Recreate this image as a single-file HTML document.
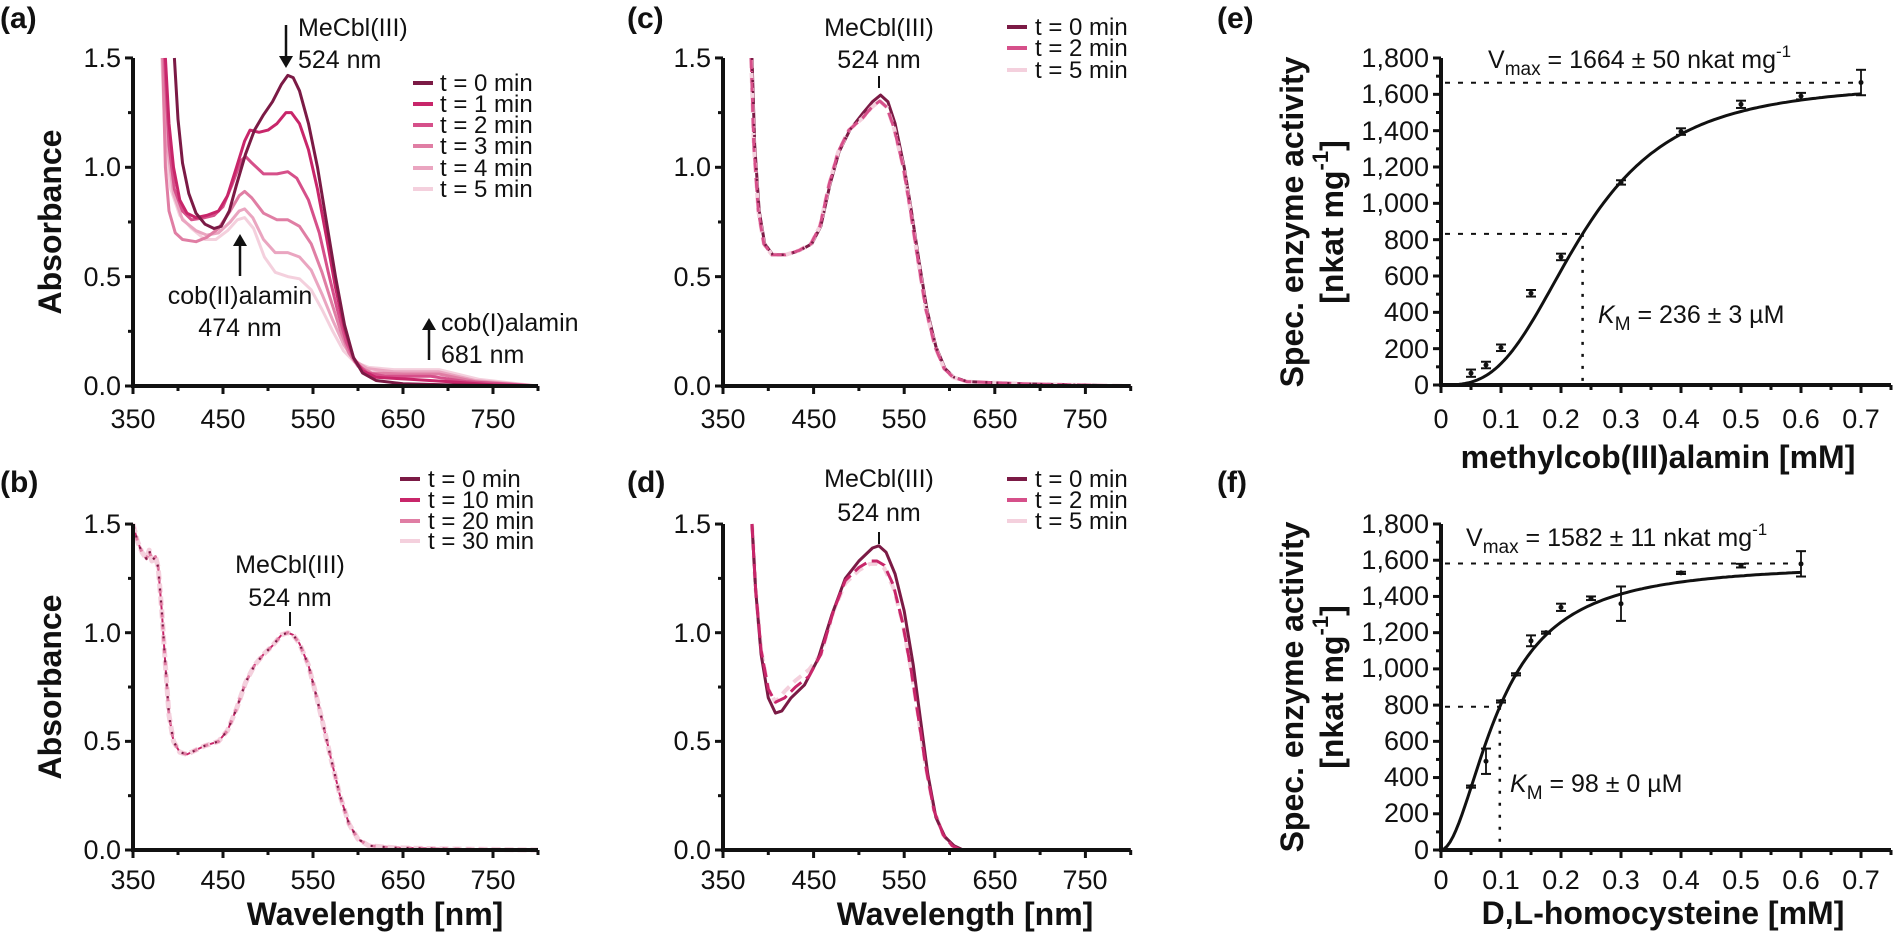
<!DOCTYPE html>
<html><head><meta charset="utf-8">
<style>
html,body{margin:0;padding:0;background:#fff;}
svg{display:block;font-family:"Liberation Sans",Arial,sans-serif;}
.t{font-size:27px;fill:#111;}
.lg{font-size:24px;fill:#111;}
.an{font-size:25px;fill:#111;}
.pl{font-size:30px;font-weight:bold;fill:#111;}
.al{font-size:32px;font-weight:bold;fill:#111;}
</style></head>
<body>
<svg id="s" width="1893" height="935" viewBox="0 0 1893 935" xmlns="http://www.w3.org/2000/svg">
<rect width="1893" height="935" fill="#fff"/>
<g id="plots"></g>
<text class="pl" x="0" y="28">(a)</text>
<text class="pl" x="627" y="28">(c)</text>
<text class="pl" x="1217" y="28">(e)</text>
<text class="pl" x="0" y="492">(b)</text>
<text class="pl" x="627" y="492">(d)</text>
<text class="pl" x="1217" y="492">(f)</text>

<g class="t" text-anchor="middle">
<text x="133" y="428">350</text><text x="223" y="428">450</text><text x="313" y="428">550</text><text x="403" y="428">650</text><text x="493" y="428">750</text>
<text x="723" y="428">350</text><text x="814" y="428">450</text><text x="904" y="428">550</text><text x="995" y="428">650</text><text x="1085" y="428">750</text>
<text x="133" y="889">350</text><text x="223" y="889">450</text><text x="313" y="889">550</text><text x="403" y="889">650</text><text x="493" y="889">750</text>
<text x="723" y="889">350</text><text x="814" y="889">450</text><text x="904" y="889">550</text><text x="995" y="889">650</text><text x="1085" y="889">750</text>
</g>
<g class="t" text-anchor="end">
<text x="121" y="67">1.5</text><text x="121" y="176">1.0</text><text x="121" y="286">0.5</text><text x="121" y="395">0.0</text>
<text x="711" y="67">1.5</text><text x="711" y="176">1.0</text><text x="711" y="286">0.5</text><text x="711" y="395">0.0</text>
<text x="121" y="533">1.5</text><text x="121" y="642">1.0</text><text x="121" y="750">0.5</text><text x="121" y="859">0.0</text>
<text x="711" y="533">1.5</text><text x="711" y="642">1.0</text><text x="711" y="750">0.5</text><text x="711" y="859">0.0</text>
</g>
<g class="t" text-anchor="middle">
<text x="1441" y="428">0</text><text x="1501" y="428">0.1</text><text x="1561" y="428">0.2</text><text x="1621" y="428">0.3</text><text x="1681" y="428">0.4</text><text x="1741" y="428">0.5</text><text x="1801" y="428">0.6</text><text x="1861" y="428">0.7</text>
<text x="1441" y="889">0</text><text x="1501" y="889">0.1</text><text x="1561" y="889">0.2</text><text x="1621" y="889">0.3</text><text x="1681" y="889">0.4</text><text x="1741" y="889">0.5</text><text x="1801" y="889">0.6</text><text x="1861" y="889">0.7</text>
</g>
<g class="t" text-anchor="end">
<text x="1429" y="67">1,800</text><text x="1429" y="103">1,600</text><text x="1429" y="140">1,400</text><text x="1429" y="176">1,200</text><text x="1429" y="212">1,000</text><text x="1429" y="249">800</text><text x="1429" y="285">600</text><text x="1429" y="321">400</text><text x="1429" y="358">200</text><text x="1429" y="394">0</text>
<text x="1429" y="533">1,800</text><text x="1429" y="569">1,600</text><text x="1429" y="605">1,400</text><text x="1429" y="641">1,200</text><text x="1429" y="677">1,000</text><text x="1429" y="714">800</text><text x="1429" y="750">600</text><text x="1429" y="786">400</text><text x="1429" y="822">200</text><text x="1429" y="859">0</text>
</g>

<text class="al" text-anchor="middle" dominant-baseline="central" transform="translate(50,222) rotate(-90)">Absorbance</text>
<text class="al" text-anchor="middle" dominant-baseline="central" transform="translate(50,687) rotate(-90)">Absorbance</text>
<text class="al" text-anchor="middle" x="375" y="925">Wavelength [nm]</text>
<text class="al" text-anchor="middle" x="965" y="925">Wavelength [nm]</text>
<text class="al" text-anchor="middle" dominant-baseline="central" transform="translate(1292,222) rotate(-90)">Spec. enzyme activity</text>
<text class="al" text-anchor="middle" dominant-baseline="central" transform="translate(1332,222) rotate(-90)">[nkat mg<tspan font-size="22" dy="-12">-1</tspan><tspan dy="12">]</tspan></text>
<text class="al" text-anchor="middle" dominant-baseline="central" transform="translate(1292,687) rotate(-90)">Spec. enzyme activity</text>
<text class="al" text-anchor="middle" dominant-baseline="central" transform="translate(1332,687) rotate(-90)">[nkat mg<tspan font-size="22" dy="-12">-1</tspan><tspan dy="12">]</tspan></text>
<text class="al" text-anchor="middle" x="1658" y="468">methylcob(III)alamin [mM]</text>
<text class="al" text-anchor="middle" x="1663" y="924">D,L-homocysteine [mM]</text>

<text class="an" x="1488" y="68">V<tspan font-size="19" dy="7">max</tspan><tspan dy="-7"> = 1664 ± 50 nkat mg</tspan><tspan font-size="17" dy="-11">-1</tspan></text>
<text class="an" x="1466" y="546">V<tspan font-size="19" dy="7">max</tspan><tspan dy="-7"> = 1582 ± 11 nkat mg</tspan><tspan font-size="17" dy="-11">-1</tspan></text>
<text class="an" x="1598" y="323"><tspan font-style="italic">K</tspan><tspan font-size="19" dy="7">M</tspan><tspan dy="-7"> = 236 ± 3 µM</tspan></text>
<text class="an" x="1510" y="792"><tspan font-style="italic">K</tspan><tspan font-size="19" dy="7">M</tspan><tspan dy="-7"> = 98 ± 0 µM</tspan></text>

<text class="an" x="298" y="36">MeCbl(III)</text>
<text class="an" x="298" y="68">524 nm</text>
<text class="an" text-anchor="middle" x="240" y="304">cob(II)alamin</text>
<text class="an" text-anchor="middle" x="240" y="336">474 nm</text>
<text class="an" x="441" y="331">cob(I)alamin</text>
<text class="an" x="441" y="363">681 nm</text>
<text class="an" text-anchor="middle" x="879" y="36">MeCbl(III)</text>
<text class="an" text-anchor="middle" x="879" y="68">524 nm</text>
<text class="an" text-anchor="middle" x="290" y="573">MeCbl(III)</text>
<text class="an" text-anchor="middle" x="290" y="606">524 nm</text>
<text class="an" text-anchor="middle" x="879" y="487">MeCbl(III)</text>
<text class="an" text-anchor="middle" x="879" y="521">524 nm</text>

<g class="lg">
<text x="440" y="91">t = 0 min</text><text x="440" y="112">t = 1 min</text><text x="440" y="133">t = 2 min</text><text x="440" y="154">t = 3 min</text><text x="440" y="176">t = 4 min</text><text x="440" y="197">t = 5 min</text>
<text x="1035" y="35">t = 0 min</text><text x="1035" y="56">t = 2 min</text><text x="1035" y="78">t = 5 min</text>
<text x="428" y="487">t = 0 min</text><text x="428" y="508">t = 10 min</text><text x="428" y="529">t = 20 min</text><text x="428" y="549">t = 30 min</text>
<text x="1035" y="487">t = 0 min</text><text x="1035" y="508">t = 2 min</text><text x="1035" y="529">t = 5 min</text>
</g>
</svg>
<script>
(function(){
var NS="http://www.w3.org/2000/svg";var G=document.getElementById("plots");
function el(n,a){var e=document.createElementNS(NS,n);for(var k in a)e.setAttribute(k,a[k]);G.appendChild(e);return e;}
function line(x1,y1,x2,y2,w,c,d){var a={x1:x1,y1:y1,x2:x2,y2:y2,stroke:c||"#111","stroke-width":w||2};if(d)a["stroke-dasharray"]=d;return el("line",a);}
var C=["#7b1a45","#c8266a","#d6508a","#e07ea4","#eaa5c0","#f4d0dd"];
function P(x0,y0,sx,sy,xmin,ymin){return {X:function(v){return x0+(v-xmin)*sx},Y:function(v){return y0-(v-ymin)*sy}};}
var pa=P(133,386,0.9,218.7,350,0),pc=P(723,386,0.906,218.7,350,0),pb=P(133,850,0.9,217.3,350,0),pd=P(723,850,0.906,217.3,350,0);
var pe=P(1441,385,600,327/1800,0,0),pf=P(1441,850,600,326/1800,0,0);
function curve(p,pts,c,w,d){var s="";pts.forEach(function(q,i){s+=(i?"L":"M")+p.X(q[0]).toFixed(1)+","+p.Y(q[1]).toFixed(1);});var a={d:s,fill:"none",stroke:c,"stroke-width":w,"stroke-linejoin":"round","stroke-linecap":"butt"};if(d)a["stroke-dasharray"]=d;return el("path",a);}
function specAxes(p){var x0=p.X(350),x1=p.X(800),y0=p.Y(0),y1=p.Y(1.5);
 for(var v=350;v<=800;v+=50){line(p.X(v),y0,p.X(v),y0+(v%100==50?8:5),3);}
 for(var a=0;a<=1.5001;a+=0.25){var m=Math.abs(a*2-Math.round(a*2))<1e-6;line(x0,p.Y(a),x0-(m?8:5),p.Y(a),3);}
 line(x0,y1,x0,y0+2,4);line(x0-2,y0,x1,y0,4);}
function kinAxes(p){var x0=p.X(0),x1=p.X(0.75),y0=p.Y(0),y1=p.Y(1800);
 for(var i=0;i<=15;i++){line(p.X(i*0.05),y0,p.X(i*0.05),y0+(i%2==0?8:5),3);}
 for(var j=0;j<=18;j++){line(x0,p.Y(j*100),x0-(j%2==0?8:5),p.Y(j*100),3);}
 line(x0,y1,x0,y0+2,4);line(x0-2,y0,x1,y0,4);}
var A=[
[[396,1.5],[400,1.22],[405,1.02],[412,0.88],[420,0.79],[430,0.74],[440,0.72],[448,0.73],[457,0.8],[465,0.92],[475,1.06],[485,1.17],[495,1.24],[505,1.3],[515,1.38],[522,1.42],[528,1.41],[535,1.35],[545,1.2],[555,1.0],[565,0.75],[575,0.5],[585,0.28],[595,0.13],[605,0.06],[620,0.025],[650,0.01],[700,0.005],[800,0]],
[[386,1.5],[390,1.2],[395,1.0],[402,0.85],[410,0.79],[420,0.77],[432,0.78],[445,0.8],[455,0.87],[465,1.0],[474,1.12],[480,1.17],[490,1.16],[500,1.17],[510,1.2],[520,1.25],[526,1.25],[535,1.2],[545,1.08],[555,0.9],[565,0.68],[575,0.45],[585,0.26],[595,0.13],[605,0.07],[620,0.04],[660,0.03],[700,0.02],[750,0.005],[800,0]],
[[385,1.5],[390,1.1],[396,0.9],[405,0.8],[415,0.76],[430,0.77],[440,0.78],[450,0.82],[460,0.92],[470,1.03],[475,1.05],[482,1.02],[495,0.97],[510,0.97],[522,0.98],[532,0.95],[545,0.85],[557,0.7],[567,0.52],[577,0.35],[587,0.2],[597,0.11],[610,0.06],[630,0.045],[680,0.045],[720,0.02],[800,0]],
[[383,1.5],[386,1.0],[390,0.8],[397,0.7],[405,0.67],[420,0.66],[432,0.68],[445,0.72],[458,0.8],[468,0.87],[474,0.89],[482,0.86],[495,0.79],[510,0.76],[522,0.76],[535,0.73],[548,0.65],[560,0.52],[570,0.39],[580,0.26],[590,0.15],[600,0.09],[615,0.06],[650,0.055],[690,0.055],[730,0.02],[800,0]],
[[383,1.5],[388,1.1],[395,0.88],[405,0.76],[420,0.71],[432,0.69],[445,0.7],[458,0.75],[468,0.8],[474,0.81],[483,0.77],[495,0.67],[508,0.61],[522,0.61],[535,0.59],[548,0.53],[560,0.42],[572,0.3],[584,0.19],[595,0.12],[610,0.08],[640,0.065],[690,0.065],[730,0.025],[800,0]],
[[382,1.5],[386,1.1],[392,0.9],[402,0.78],[415,0.72],[430,0.67],[442,0.67],[455,0.71],[466,0.76],[474,0.77],[484,0.72],[496,0.59],[508,0.52],[522,0.5],[535,0.49],[548,0.44],[560,0.35],[572,0.25],[584,0.16],[596,0.11],[612,0.085],[640,0.075],[690,0.075],[735,0.03],[800,0]]];
for(var i=5;i>=0;i--)curve(pa,A[i],C[i],3);
specAxes(pa);
function leg(x,ys,cols){ys.forEach(function(y,i){line(x,y,x+20,y,4,cols[i]);});}
leg(413,[83,104,125,146,168,189],C);
leg(1007,[27,48,70],[C[0],C[2],C[5]]);
leg(400,[479,500,521,541],[C[0],C[1],C[3],C[5]]);
leg(1007,[479,500,521],[C[0],C[2],C[5]]);
line(286,25,286,58,2.5);el("path",{d:"M279,56 L293,56 L286,68 Z",fill:"#111"});
line(240,276,240,244,2.5);el("path",{d:"M233,246 L247,246 L240,234 Z",fill:"#111"});
line(429,360,429,328,2.5);el("path",{d:"M422,330 L436,330 L429,318 Z",fill:"#111"});
var B=[[350,1.5],[355,1.42],[360,1.37],[365,1.34],[368,1.38],[371,1.33],[375,1.35],[378,1.3],[382,1.1],[386,0.85],[390,0.62],[395,0.5],[402,0.45],[410,0.44],[420,0.46],[430,0.48],[445,0.5],[455,0.55],[465,0.65],[475,0.77],[485,0.85],[495,0.9],[505,0.94],[515,0.99],[522,1.0],[528,0.99],[535,0.95],[545,0.85],[553,0.72],[560,0.6],[570,0.42],[580,0.25],[590,0.12],[600,0.05],[612,0.02],[640,0.01],[700,0.005],[800,0]];
curve(pb,B,C[1],2);curve(pb,B,C[5],5,"9 4");curve(pb,B,C[3],3,"5 7");curve(pb,B,C[0],2,"2 10");
specAxes(pb);line(290,612,290,626,2);
var Cc=[[382,1.5],[385,1.1],[390,0.8],[396,0.65],[405,0.6],[420,0.6],[435,0.62],[448,0.65],[458,0.73],[468,0.92],[478,1.07],[490,1.17],[505,1.25],[515,1.3],[524,1.33],[532,1.3],[540,1.2],[550,1.0],[558,0.8],[566,0.58],[575,0.35],[585,0.18],[595,0.08],[605,0.04],[620,0.02],[680,0.01],[800,0]];
var Cc2=Cc.map(function(q){return [q[0]-1,q[1]*(q[0]>495&&q[0]<545?0.98:1)];});
curve(pc,Cc,C[0],3);curve(pc,Cc2,C[5],4,"10 5");curve(pc,Cc2,C[2],3,"14 6");curve(pc,Cc,C[0],2.5,"2 9");
specAxes(pc);line(879,76,879,88,2);
var D0=[[382,1.5],[386,1.2],[392,0.9],[400,0.7],[408,0.63],[415,0.64],[425,0.7],[440,0.76],[455,0.88],[470,1.08],[485,1.25],[500,1.33],[515,1.39],[522,1.4],[530,1.37],[540,1.27],[550,1.1],[560,0.85],[568,0.6],[576,0.35],[585,0.15],[595,0.06],[605,0.02],[615,0],[800,0]];
var D2=[[382,1.5],[386,1.2],[392,0.92],[400,0.74],[408,0.68],[418,0.7],[430,0.75],[445,0.8],[458,0.9],[472,1.1],[485,1.24],[500,1.3],[512,1.33],[520,1.33],[528,1.31],[538,1.22],[548,1.05],[558,0.82],[566,0.6],[574,0.38],[583,0.18],[593,0.07],[603,0.02],[612,0],[800,0]];
var D5=D2.map(function(q){return [q[0],q[1]*(q[0]>480&&q[0]<540?0.99:1)+(q[0]>415&&q[0]<450?0.03:0)];});
curve(pd,D5,C[5],4,"10 6");curve(pd,D0,C[0],3);curve(pd,D2,C[1],3,"14 6");
specAxes(pd);line(879,532,879,544,2);
function hill(V,K,n,x){return V*Math.pow(x,n)/(Math.pow(K,n)+Math.pow(x,n));}
function kin(p,V,K,n,xmax,pts,dashEnd){
 var Vy=p.Y(V),h=V/2;
 line(p.X(0)+4,Vy,p.X(dashEnd),Vy,2,"#111","5 8");
 line(p.X(0)+4,p.Y(h),p.X(K),p.Y(h),2,"#111","5 8");
 line(p.X(K),p.Y(h),p.X(K),p.Y(0),2.5,"#111","3 9");
 var s=[];for(var x=0;x<=xmax+1e-9;x+=0.005)s.push([x,hill(V,K,n,x)]);
 curve(p,s,"#111",3);
 pts.forEach(function(q){var x=p.X(q[0]),y=p.Y(q[1]);var ey=q[2]*(p.Y(0)-p.Y(1));
  el("circle",{cx:x,cy:y,r:2.5,fill:"#111"});
  line(x,y-ey,x,y+ey,1.8);line(x-5,y-ey,x+5,y-ey,2);line(x-5,y+ey,x+5,y+ey,2);});
 kinAxes(p);}
kin(pe,1664,0.236,3,0.7,[[0.05,65,20],[0.075,110,18],[0.1,205,18],[0.15,505,18],[0.2,705,18],[0.3,1115,12],[0.4,1395,18],[0.5,1545,20],[0.6,1590,18],[0.7,1665,70]],0.69);
kin(pf,1582,0.098,1.9,0.6,[[0.05,350,6],[0.075,490,70],[0.1,820,6],[0.125,970,6],[0.15,1155,30],[0.175,1200,6],[0.2,1340,20],[0.25,1390,10],[0.3,1360,95],[0.4,1530,6],[0.5,1570,10],[0.6,1580,70]],0.59);
})();
</script>
</body></html>
